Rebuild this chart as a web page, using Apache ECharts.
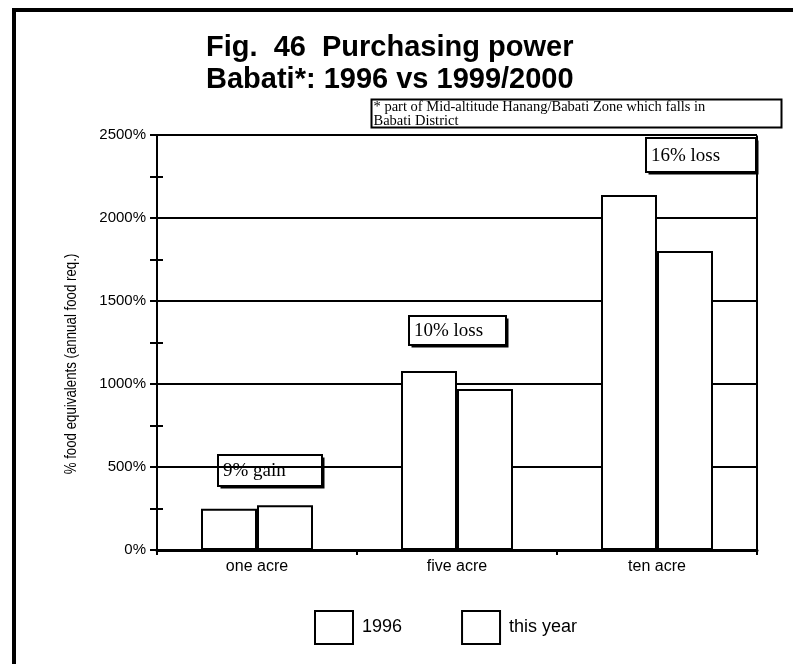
<!DOCTYPE html>
<html>
<head>
<meta charset="utf-8">
<script src="https://cdn.jsdelivr.net/npm/echarts@6/dist/echarts.min.js"></script>
<style>
html,body{margin:0;padding:0;background:#fff;}
#chart{width:793px;height:664px;}
</style>
</head>
<body>
<div id="chart"></div>
<script>
const categories = ['one acre', 'five acre', 'ten acre'];
const seriesNames = ['1996', 'this year'];
const values1996 = [248, 1078, 2139];
const valuesThisYear = [270, 970, 1801];
const yTicks = [0, 500, 1000, 1500, 2000, 2500];
const annotations = ['9% gain', '10% loss', '16% loss'];
const titleLines = ['Fig.  46  Purchasing power', 'Babati*: 1996 vs 1999/2000'];
const noteLines = ['* part of Mid-altitude Hanang/Babati Zone which falls in', 'Babati District'];
const yName = '% food equivalents (annual food req.)';

const chart = echarts.init(document.getElementById('chart'), null, {renderer: 'canvas'});
const SANS = 'Liberation Sans, Arial, sans-serif';
const SERIF = 'Liberation Serif, Times New Roman, serif';

function noteBox(x, y, w, h, text) {
  return {
    type: 'group', left: x, top: y,
    children: [
      {type: 'rect', shape: {x: 2.5, y: 2.5, width: w, height: h}, style: {fill: '#000'}},
      {type: 'rect', shape: {x: 0, y: 0, width: w, height: h}, style: {fill: '#fff', stroke: '#000', lineWidth: 2}},
      {type: 'text', x: 5, y: h / 2 + 1, style: {text: text, font: '19px ' + SERIF, fill: '#000', textVerticalAlign: 'middle'}}
    ]
  };
}

const option = {
  backgroundColor: '#fff',
  animation: false,
  title: {
    text: titleLines.join('\n'),
    left: 206, top: 32, padding: 0,
    textStyle: {fontFamily: SANS, fontWeight: 'bold', fontSize: 29, lineHeight: 32, color: '#000'}
  },
  legend: {
    data: seriesNames,
    bottom: 14, left: 309,
    itemWidth: 38, itemHeight: 33, itemGap: 59,
    icon: 'rect',
    textStyle: {fontFamily: SANS, fontSize: 18, color: '#000', padding: [0, 0, 0, 4]}
  },
  grid: {
    left: 157, right: 36, top: 135, bottom: 114,
    show: true, borderColor: '#000', borderWidth: 2, backgroundColor: 'transparent'
  },
  xAxis: {
    type: 'category', data: categories,
    axisLine: {lineStyle: {color: '#000', width: 3}},
    axisTick: {show: true, length: 5, lineStyle: {color: '#000', width: 2}},
    axisLabel: {fontFamily: SANS, fontSize: 16, color: '#000', margin: 9}
  },
  yAxis: [{
    type: 'value', min: yTicks[0], max: yTicks[yTicks.length - 1], interval: 500,
    axisLine: {show: true, lineStyle: {color: '#000', width: 2}},
    axisTick: {show: true, length: 7, lineStyle: {color: '#000', width: 2}},
    minorTick: {show: true, splitNumber: 2, length: 7, lineStyle: {color: '#000', width: 2}},
    axisLabel: {formatter: function (v) { return v + '%'; }, fontFamily: SANS, fontSize: 15, color: '#000', margin: 11},
    splitLine: {show: true, lineStyle: {color: '#000', width: 2}}
  }, {
    type: 'value', min: yTicks[0], max: yTicks[yTicks.length - 1], interval: 250,
    position: 'right', offset: -600,
    axisLine: {show: false},
    axisTick: {show: true, length: 6, lineStyle: {color: '#000', width: 2}},
    axisLabel: {show: false},
    splitLine: {show: false}
  }],
  series: [{
    name: seriesNames[0], type: 'bar', data: values1996, barWidth: 56, barGap: '0%',
    itemStyle: {color: '#fff', borderColor: '#000', borderWidth: 2}
  }, {
    name: seriesNames[1], type: 'bar', data: valuesThisYear, barWidth: 56, barGap: '0%',
    itemStyle: {color: '#fff', borderColor: '#000', borderWidth: 2}
  }],
  graphic: [
    {type: 'rect', shape: {x: 12, y: 8, width: 4, height: 656}, style: {fill: '#000'}},
    {type: 'rect', shape: {x: 12, y: 8, width: 781, height: 4}, style: {fill: '#000'}},
    {type: 'text', x: 72, y: 364, rotation: Math.PI / 2, scaleX: 0.83,
      style: {text: yName, font: '16px ' + SANS, fill: '#000', textAlign: 'center', textVerticalAlign: 'middle'}},
    {
      type: 'group', left: 369, top: 97,
      children: [
        {type: 'text', x: 2, y: 1, style: {text: noteLines.join('\n'), font: '14.5px ' + SERIF, lineHeight: 14, fill: '#000'}},
        {type: 'rect', shape: {x: -2, y: 27, width: 414, height: 9}, style: {fill: '#fff'}},
        {type: 'rect', shape: {x: 0, y: 0, width: 410, height: 28}, style: {fill: 'none', stroke: '#000', lineWidth: 2}}
      ]
    },
    noteBox(217, 454, 104, 31, annotations[0]),
    noteBox(408, 315, 97, 29, annotations[1]),
    noteBox(645, 137, 110, 34, annotations[2])
  ]
};
chart.setOption(option);
</script>
</body>
</html>
